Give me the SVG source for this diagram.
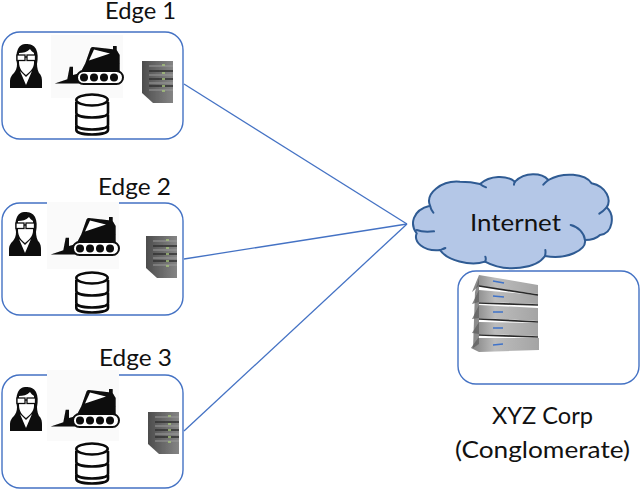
<svg xmlns="http://www.w3.org/2000/svg" width="640" height="490" viewBox="0 0 640 490">
<style>
.box{fill:#fff;stroke:#4472c4;stroke-width:1.4}
.conn{fill:none;stroke:#4472c4;stroke-width:1.3}
.lbl{font-family:Lato,"Open Sans","Liberation Sans",sans-serif;font-size:23.5px;fill:#111}
.db{fill:#fff;stroke:#0a0a0a;stroke-width:2.6}
.cl{fill:none;stroke:#2f5b93;stroke-width:6}
</style>
<defs>
<filter id="soft" x="-15%" y="-15%" width="130%" height="130%"><feGaussianBlur stdDeviation="0.6"/></filter>
<filter id="soft2" x="-10%" y="-10%" width="120%" height="120%"><feGaussianBlur stdDeviation="0.6"/></filter>
<filter id="soft3" x="-10%" y="-10%" width="120%" height="120%"><feGaussianBlur stdDeviation="0.3"/></filter>
<linearGradient id="srv" x1="0" y1="0" x2="1" y2="0"><stop offset="0" stop-color="#4c4c4c"/><stop offset=".3" stop-color="#5e5e5e"/><stop offset="1" stop-color="#858585"/></linearGradient>
<linearGradient id="slab" x1="0" y1="0" x2="1" y2="0"><stop offset="0" stop-color="#808080"/><stop offset=".35" stop-color="#bcbcbc"/><stop offset="1" stop-color="#a4a4a4"/></linearGradient>
<g id="person" filter="url(#soft3)">
<path d="M1,44V38C1,33 3,31 5,29C7,26 8,24 8,20C7,14 7,9 9,5C11,1 14,0 17,0C21,0 25,1 27,5C29,9 29,14 28,20C28,24 29,27 30,29C32,31 33,33 33,38V44Z" fill="#0a0a0a"/>
<path d="M10,9C14,9 18,8 21,5C22,7 24,8 25,9V19C25,24 21,28 17,31C13,28 10,24 10,18Z" fill="#fff"/>
<path d="M11,27L17,41L23,27L19,31L17,33L15,31Z" fill="#fff"/>
<rect x="8" y="11" width="8" height="5.500" fill="#fff" stroke="#111" stroke-width="1.300"/>
<rect x="18" y="11" width="8.500" height="5.500" fill="#fff" stroke="#111" stroke-width="1.300"/>
<path d="M16,13H18" stroke="#111" stroke-width="1.300"/>
</g>
<g id="loader" filter="url(#soft3)">
<path d="M2.700,36.500L15.300,32.300L17.700,19.700H21V28L28,26V36.500Z" fill="#0a0a0a"/>
<path d="M27.700,27L33.300,16.300L38.500,1.500Q39,-.3 41,0L61,2.300V-1H64.700V3L67.700,8V27Z" fill="#0a0a0a"/>
<path d="M37,13.500L42,2.500L58,6.500Z" fill="#fff"/>
<rect x="25" y="24" width="46" height="13" rx="6.500" fill="#fff" stroke="#0a0a0a" stroke-width="2"/>
<circle cx="32" cy="30.500" r="4" fill="#0a0a0a"/><circle cx="42" cy="30.500" r="4" fill="#0a0a0a"/><circle cx="52" cy="30.500" r="4" fill="#0a0a0a"/><circle cx="62" cy="30.500" r="4" fill="#0a0a0a"/>
</g>
<g id="db">
<path class="db" d="M1.300,33V37C1.300,40 8,41.500 17,41.500C26,41.500 33,40 33,37V33"/>
<path class="db" d="M1.300,21.500V32C1.300,35 8,36.500 17,36.500C26,36.500 33,35 33,32V21.500"/>
<path class="db" d="M1.300,9V20C1.300,23 8,24.500 17,24.500C26,24.500 33,23 33,20V9"/>
<ellipse class="db" cx="17" cy="7" rx="15.700" ry="5.500"/>
</g>
<g id="server" filter="url(#soft)">
<path d="M1,1L32,1V43H12L1,33Z" fill="url(#srv)"/>
<path d="M8,11H32M8,19H32M8,26H32" stroke="#303030" stroke-width="1.500"/>
<path d="M8,6H32M8,15H32M8,23H32M8,30H32" stroke="#9a9a9a" stroke-width="1"/>
<path d="M21,5h3M21,13h3M21,19h3M21,26h3M21,31h3" stroke="#a6c47c" stroke-width="1.700"/>
</g>
</defs>

<g id="connectors">
<line class="conn" x1="184" y1="84" x2="407" y2="224"/>
<line class="conn" x1="184" y1="259" x2="407" y2="224"/>
<line class="conn" x1="184" y1="431" x2="407" y2="224"/>
</g>

<g id="edge1">
<rect class="box" x="2" y="32" width="181" height="107" rx="18"/>
<rect x="51" y="35" width="72" height="63" fill="#fafafa"/>
<use href="#person" x="9" y="44"/>
<use href="#loader" x="52" y="47"/>
<use href="#db" x="75" y="93"/>
<use href="#server" x="141" y="60"/>
<text class="lbl" x="105" y="19" textLength="71" lengthAdjust="spacingAndGlyphs">Edge 1</text>
</g>

<g id="edge2">
<rect class="box" x="2" y="203" width="181" height="112" rx="18"/>
<rect x="47" y="202" width="72" height="67" fill="#fafafa"/>
<use href="#person" x="8" y="212"/>
<use href="#loader" x="48" y="218"/>
<use href="#db" x="75" y="271"/>
<use href="#server" x="145" y="235"/>
<text class="lbl" x="98" y="195" textLength="73" lengthAdjust="spacingAndGlyphs">Edge 2</text>
</g>

<g id="edge3">
<rect class="box" x="2" y="375" width="181" height="113" rx="18"/>
<rect x="47" y="370" width="72" height="71" fill="#fafafa"/>
<use href="#person" x="9" y="387"/>
<use href="#loader" x="48" y="390"/>
<use href="#db" x="75" y="442"/>
<use href="#server" x="147" y="411"/>
<text class="lbl" x="99" y="366" textLength="73" lengthAdjust="spacingAndGlyphs">Edge 3</text>
</g>

<g id="internet">
<g transform="translate(400,170) scale(.33333)">
<path d="M50,190C30,165 35,120 90,107C75,70 125,30 180,35C205,35 225,38 240,42C270,15 320,15 345,35C375,5 425,8 445,30C490,5 555,10 575,40C620,50 635,90 620,112C645,135 640,190 600,195C590,205 570,210 555,210C560,240 500,270 435,258C410,295 320,310 255,275C210,290 140,270 120,240C70,245 40,215 50,190Z" fill="#b4c7e7"/>
<path class="cl" d="M50,190C30,165 35,120 90,107C75,70 125,30 180,35C205,35 225,38 240,42C270,15 320,15 345,35C375,5 425,8 445,30C490,5 555,10 575,40C620,50 635,90 620,112C645,135 640,190 600,195C590,205 570,210 555,210C560,240 500,270 435,258C410,295 320,310 255,275C210,290 140,270 120,240C70,245 40,215 50,190Z"/>
<path class="cl" d="M50,180C65,186 85,186 102,184M90,107C92,115 95,122 100,128M240,42C245,46 250,49 258,52M345,35C343,38 342,40 342,44M445,30C440,34 435,38 430,44M620,112C613,120 606,126 598,131M555,210C553,190 535,170 512,165M435,258C437,250 437,246 436,240M255,275C258,270 258,265 256,260M120,240C125,238 130,237 136,234" stroke-linecap="round"/>
</g>
<text class="lbl" x="470" y="231" textLength="91" lengthAdjust="spacingAndGlyphs">Internet</text>
</g>

<g id="xyz">
<rect class="box" x="458" y="271" width="181" height="113" rx="18"/>
<g filter="url(#soft2)">
<path d="M472,292L479,275L538,285V294L479,286Z" fill="url(#slab)"/>
<path d="M472,304L479,290L538,295V304L479,302Z" fill="url(#slab)"/>
<path d="M472,319L479,305L538,308V321L479,318Z" fill="url(#slab)"/>
<path d="M472,333L479,322L538,323V336L479,334Z" fill="url(#slab)"/>
<path d="M471,348L478,338L539,338V350L479,352Z" fill="url(#slab)"/>
<path d="M479,286L538,295M479,303L538,305M479,319L538,322M479,335L538,337" stroke="#2a2a2a" stroke-width="1.700"/>
<path d="M475,292L479,278V344L473,348Z" fill="#5c5c5c" opacity=".7"/>
<path d="M493,281l11,2M493,296l11,1M493,312l10,0M493,328l10,0M493,345l10,-1" stroke="#3f73c9" stroke-width="1.700"/>
</g>
<text class="lbl" x="492" y="424" textLength="101" lengthAdjust="spacingAndGlyphs">XYZ Corp</text>
<text class="lbl" x="455" y="458" textLength="175" lengthAdjust="spacingAndGlyphs">(Conglomerate)</text>
</g>
</svg>
